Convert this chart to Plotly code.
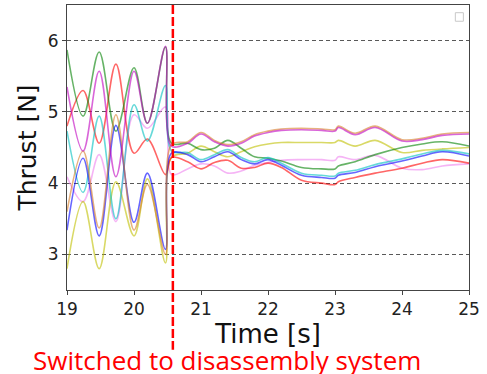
import plotly.graph_objects as go

# ---- data ----
SWITCH_TIME = 20.58

time_pre = [19.0, 19.24, 19.48, 19.73, 20.0, 20.2, 20.47]
time_post = [20.56, 20.8, 21.0, 21.2, 21.4, 21.6, 21.8, 22.0, 22.2, 22.5, 22.8,
             23.0, 23.05, 23.3, 23.6, 24.0, 24.3, 24.6, 25.0]

green_pre = [5.87, 4.94, 5.84, 4.73, 5.62, 4.84, 5.91]
green_post = [4.56, 4.56, 4.47, 4.49, 4.60, 4.49, 4.37, 4.35, 4.31, 4.22, 4.20,
              4.20, 4.24, 4.30, 4.40, 4.50, 4.55, 4.58, 4.52]

magenta_pre = [5.35, 4.45, 5.57, 4.09, 5.57, 4.84, 5.92]
magenta_post = [4.52, 4.56, 4.69, 4.58, 4.52, 4.56, 4.66, 4.71, 4.74, 4.75, 4.74,
                4.73, 4.78, 4.68, 4.78, 4.59, 4.61, 4.67, 4.69]

orange_pre = [3.60, 4.45, 3.37, 4.96, 3.34, 3.98, 3.00]
orange_post = [4.54, 4.58, 4.71, 4.60, 4.54, 4.58, 4.68, 4.73, 4.76, 4.77, 4.76,
               4.75, 4.80, 4.70, 4.80, 4.61, 4.63, 4.69, 4.71]

yellow_pre = [2.80, 3.74, 2.80, 4.02, 3.26, 4.06, 2.88]
yellow_post = [4.36, 4.42, 4.52, 4.44, 4.37, 4.44, 4.51, 4.55, 4.57, 4.57, 4.57,
               4.57, 4.60, 4.52, 4.60, 4.43, 4.46, 4.48, 4.50]

cyan_pre = [4.73, 3.87, 4.94, 3.50, 5.10, 4.59, 5.37]
cyan_post = [4.45, 4.43, 4.33, 4.40, 4.47, 4.36, 4.30, 4.36, 4.28, 4.14, 4.11,
             4.10, 4.14, 4.18, 4.26, 4.34, 4.41, 4.46, 4.41]

blue_pre = [3.34, 4.35, 3.26, 4.81, 3.45, 4.14, 3.07]
blue_post = [4.42, 4.40, 4.30, 4.37, 4.44, 4.33, 4.27, 4.33, 4.25, 4.11, 4.08,
             4.07, 4.11, 4.15, 4.23, 4.31, 4.38, 4.44, 4.38]

red_pre = [4.80, 5.30, 4.56, 5.67, 4.42, 4.62, 4.12]
red_post = [4.36, 4.30, 4.20, 4.29, 4.32, 4.21, 4.22, 4.28, 4.22, 4.04, 4.00,
            3.98, 4.02, 4.08, 4.14, 4.21, 4.28, 4.33, 4.28]

plum_pre = [4.09, 3.74, 4.40, 3.46, 4.96, 4.77, 5.07]
plum_post = [4.12, 4.20, 4.27, 4.24, 4.14, 4.17, 4.25, 4.29, 4.32, 4.33, 4.33,
             4.32, 4.37, 4.33, 4.39, 4.21, 4.19, 4.24, 4.27]

x_ticks = [19, 20, 21, 22, 23, 24, 25]
y_ticks = [3, 4, 5, 6]

series = [
    ("plum", plum_pre, plum_post, "rgba(238,130,238,0.6)"),
    ("yellow", yellow_pre, yellow_post, "rgba(191,191,0,0.6)"),
    ("red", red_pre, red_post, "rgba(255,0,0,0.6)"),
    ("green", green_pre, green_post, "rgba(0,128,0,0.6)"),
    ("cyan", cyan_pre, cyan_post, "rgba(0,191,191,0.6)"),
    ("blue", blue_pre, blue_post, "rgba(0,0,255,0.6)"),
    ("orange", orange_pre, orange_post, "rgba(215,125,40,0.6)"),
    ("magenta", magenta_pre, magenta_post, "rgba(191,0,191,0.6)"),
]

fig = go.Figure()
for name, pre, post, col in series:
    fig.add_trace(go.Scatter(
        x=time_pre + time_post, y=pre + post, mode="lines", name=name,
        line=dict(color=col, width=1.6, shape="spline", smoothing=1),
        showlegend=False, hoverinfo="skip"))

font_main = "DejaVu Sans"
fig.update_layout(
    width=487, height=374,
    margin=dict(l=67, r=18, t=5, b=84),
    paper_bgcolor="white", plot_bgcolor="white",
    showlegend=False,
    xaxis=dict(
        range=[19, 25], tickvals=x_ticks, ticktext=[str(v) for v in x_ticks],
        ticks="outside", ticklen=4, tickwidth=1, tickcolor="#444",
        showline=True, linecolor="#444", linewidth=1, mirror=True,
        showgrid=False, zeroline=False,
        tickfont=dict(family=font_main, size=17, color="#222"),
        title=dict(text="Time [s]", font=dict(family=font_main, size=26, color="#111"), standoff=3),
    ),
    yaxis=dict(
        range=[2.5, 6.5], tickvals=y_ticks, ticktext=[str(v) for v in y_ticks],
        ticks="outside", ticklen=4, tickwidth=1, tickcolor="#444",
        showline=True, linecolor="#444", linewidth=1, mirror=True,
        showgrid=True, gridcolor="rgba(60,60,60,0.85)", gridwidth=1, griddash="4px,3px",
        zeroline=False,
        tickfont=dict(family=font_main, size=17, color="#222"),
        title=dict(text="Thrust [N]", font=dict(family=font_main, size=25, color="#111"), standoff=4),
    ),
)

# switch marker line (extends below the axis)
fig.add_shape(type="line", xref="x", yref="paper", x0=SWITCH_TIME, x1=SWITCH_TIME,
              y0=1, y1=-0.21, line=dict(color="red", width=2.5, dash="9px,3px"))

# empty legend box (as in the reference)
fig.add_shape(type="rect", xref="paper", yref="paper", x0=0.966, x1=0.986, y0=0.943, y1=0.973,
              line=dict(color="rgba(200,200,200,1)", width=1), fillcolor="white")

fig.add_annotation(text="Switched to disassembly system", xref="paper", yref="paper",
                   x=0.398, y=-0.245, xanchor="center", yanchor="middle", showarrow=False,
                   font=dict(family="Open Sans", size=26, color="red"))

fig.write_html("out.html")
